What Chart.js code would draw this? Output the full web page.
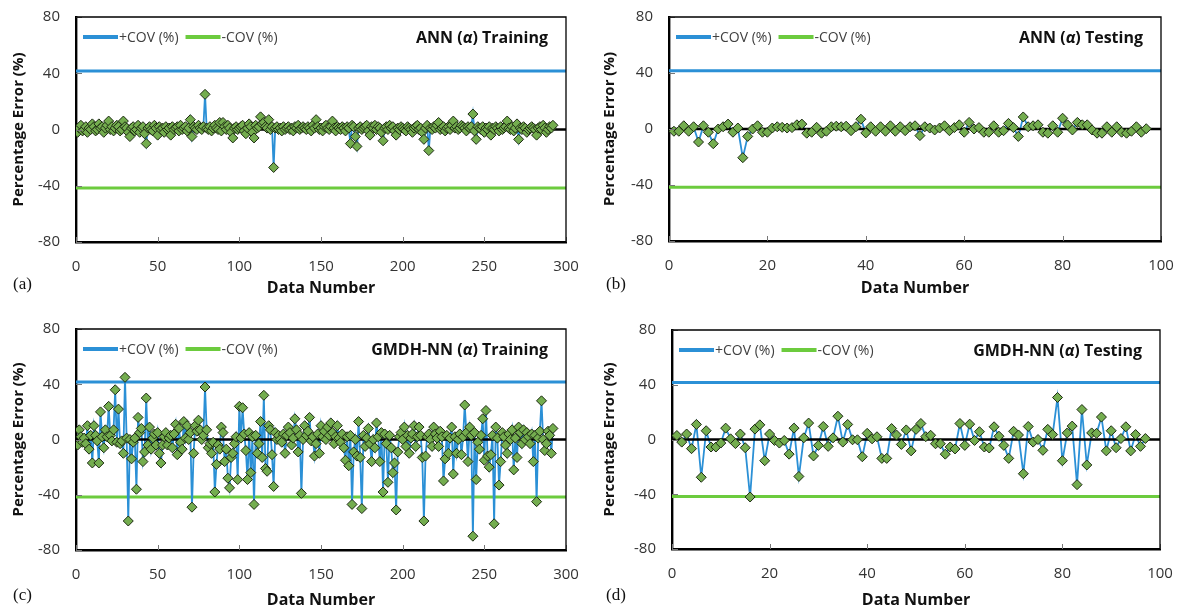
<!DOCTYPE html>
<html>
<head>
<meta charset="utf-8">
<script src="https://cdn.jsdelivr.net/npm/chart.js@4.4.1/dist/chart.umd.min.js"></script>
<style>
  body { margin: 0; background: #fff; width: 1182px; height: 613px; position: relative; overflow: hidden; }
  canvas { position: absolute; }
  .tag { position: absolute; font-family: 'Liberation Serif', serif; font-size: 17px; color: #111; }
</style>
</head>
<body>
<canvas id="chartA" width="591" height="300" style="left:0;top:0"></canvas>
<canvas id="chartB" width="591" height="300" style="left:591px;top:0"></canvas>
<canvas id="chartC" width="591" height="313" style="left:0;top:300px"></canvas>
<canvas id="chartD" width="591" height="313" style="left:591px;top:300px"></canvas>
<div class="tag" style="left:13px;top:274px">(a)</div>
<div class="tag" style="left:606px;top:274px">(b)</div>
<div class="tag" style="left:13px;top:585px">(c)</div>
<div class="tag" style="left:606px;top:585px">(d)</div>
<script>
// percentage error per data number (data number = index + 1)
const annTrain = [
  -2, 1, 3, -1, 0, 2, -2, 1, 0, 4, 2, -1, 0, 4, 1, 2, -2, 1, 3, 6,
  0, 2, -1, 1, 3, 2, -1, 0, 6, 2, 1, -2, -5, 1, 2, -1, 0, 3, -2, 1,
  2, -3, -10, 1, 2, 0, -1, 3, 1, -4, 2, 0, 1, -2, 2, 0, 1, -4, 2, 0,
  1, 2, -1, 3, 0, 1, 2, -1, 1, 7, -5, 2, 1, 0, 3, 1, 0, 2, 25, 1,
  0, 2, -1, 1, 3, 1, 0, 5, -1, 5, 2, 0, 3, 1, -2, -6, 1, 2, 0, 1,
  2, 3, -1, -3, 1, 4, 2, -2, -6, 3, 1, 2, 9, 4, 5, 2, 1, 7, 0, 2,
  -27, 1, 2, 0, 1, -1, 2, 0, 1, 2, 0, 1, -1, 2, 1, 3, 0, 1, 2, 1,
  0, 2, 1, -1, 3, 1, 7, 2, 0, 1, -1, 2, 3, 1, 0, 2, 6, 1, -1, 2,
  1, 0, 2, 1, -1, 2, 1, -10, 3, 2, -5, -12, 1, 2, 0, 1, 2, 3, -1, -4,
  2, 1, 3, 0, 2, 1, -2, -8, 1, 2, 0, 3, 1, 2, -1, -4, 1, 0, 2, 1,
  0, -1, 2, 1, 0, -2, 1, 2, 3, 0, 1, -2, -7, 1, 3, -15, 1, 0, 2, 1,
  3, 5, 0, 1, 2, -1, 1, 2, 0, 3, 6, 1, 2, 0, 1, 3, 2, 1, -1, 2,
  1, 2, 11, -1, -7, 2, 1, 0, 2, -2, 1, 0, 2, -4, 1, 0, 2, 1, -1, 2,
  0, 1, 2, 6, 1, 0, 2, -1, 1, 4, -7, 1, 0, 2, 1, -2, 0, 1, 2, 1,
  0, -4, 1, 2, 0, 3, 1, -2, 0, 2, 1, 3
];
const annTest = [
  -1.6, -1.6, 2.3, -1.6, 1.6, -9.3, 2.3, -2.3, -10.5, 0,
  1.6, 3.5, -2.3, 0.7, -20.5, -5.3, 0, 2.3, -2.3, -2.3,
  0.7, 1.6, 1.2, 0.7, 1, 3, 3.5, -3, -2.3, 1.2,
  -3, -1.6, 1.6, 2, 1.6, 2, -1.2, 1.6, 7, -2.8,
  1.6, -1.6, 1.6, -1.6, 2.3, -1.6, 1.6, -1.2, 1.6, 2.3,
  -4.7, 1.6, 0.7, -0.7, 0.7, 2.3, -1.2, 1, 3, -2.3,
  4.7, 0, 1, -2.3, -2.3, 2.3, -2.3, -1.2, 4, 1,
  -5.3, 8.6, 1.6, 2.3, 3, -2.3, -3, 2.3, -2.3, 7.7,
  3, -0.7, 4.7, 3, 3, -0.7, -3, -3, 1.6, -2.3,
  1.6, -2.3, -3, -1.6, 1.6, -2.3, 0.2
];
const gmdhTrain = [
  -4, 7, 2, -2, 1, -3, 10, -7, 3, -17, 10, 3, -1, -17, 20, 2, -6, 7, 2, 24,
  3, -1, 7, 36, -2, 22, -3, -1, -10, 45, 1, -59, 0, -14, -2, 1, -36, 16, 5, 8,
  -16, -9, 30, -4, 9, -7, 1, 4, -4, 5, -10, -17, -4, 2, 5, -4, 1, 3, -6, 4,
  11, -11, 8, -2, -7, 13, 1, 10, 0, 5, -49, -10, 10, 6, 14, 7, 0, 3, 38, 7,
  -6, -3, -10, -2, -38, -18, -4, -7, 9, 5, -16, -7, -28, -35, -13, -10, -3, 2, -29, 24,
  1, 23, 4, -8, -29, 5, -24, 2, -47, 3, -10, -3, 13, -13, 32, -21, -23, 10, 7, -11,
  -34, 5, 0, 3, 0, -2, 4, -10, 3, 9, 5, -4, 1, 15, 7, -9, 3, -39, 0, 10,
  3, 6, 16, -1, 2, -12, -3, 4, -10, 10, 2, 6, 0, 9, 3, 12, 5, -3, 2, 10,
  1, -2, 4, -6, -15, 2, -19, 3, -47, -9, 0, -12, 13, -13, -50, 3, -5, 1, 8, -3,
  -16, 0, -6, 12, 2, -16, 5, -38, 4, -3, -31, 3, -6, -24, -17, -51, -9, 2, 5, 0,
  9, -5, 3, -10, 1, 4, 10, -5, 2, 9, 3, -13, -59, -12, 2, 4, 0, -5, 9, 4,
  1, -5, 6, 2, -30, -14, 3, -10, 1, 9, -25, 2, -10, 0, 4, -11, 2, 25, 5, -16,
  9, 3, -70, 5, -29, -2, -7, 3, 15, -15, 21, -12, -20, -11, 3, -61, 9, 1, -33, -16,
  5, 2, -4, -10, 4, 0, 7, -22, 1, -13, 9, 5, -3, 7, 0, 5, 2, -3, 4, -16,
  3, -45, 1, 6, 28, 0, -8, -3, 6, 3, -10, 8
];
const gmdhTest = [
  2.9, -1.9, 4, -6.7, 11, -27.6, 6.4, -5.5, -5.5, -2.6,
  8.3, 0.5, -3, 4, -6, -42, 7.6, 10.7, -15.5, 4,
  -0.7, -2.6, -0.7, -10.7, 8.3, -27, 1.2, 12, -12, -4.3,
  9.5, -5, 1.2, 17, -1.9, 11, -0.2, -0.2, -12.6, 4.5,
  0.5, 2, -13.8, -13.8, 8, 3.3, -3.6, 7, -8.3, 7.4,
  11.7, 2.1, 3.1, -3.1, -3.1, -10.7, -5.5, -6.9, 11.7, -4.3,
  11.2, -0.7, 5.7, -5.5, -6.2, 9.3, 2.4, -4.3, -13.8, 6,
  3.3, -25, 9.5, -1.9, 0, -7.9, 7.4, 3.6, 30.7, -15.5,
  4.8, 9.8, -33, 21.9, -18.6, 4.8, 4.5, 16.4, -8.3, 6.4,
  -6, 0.7, 9.3, -8.3, 3.6, -5, 0.7
];

// coefficient of variation band (%)
const covAnnTrain = 41.6;
const covAnnTest = 41.6;
const covGmdhTrain = 41.6;
const covGmdhTest = 41.6;

// tick labels
const xTicksTrain = [0, 50, 100, 150, 200, 250, 300];
const xTicksTest = [0, 20, 40, 60, 80, 100];
const yTicks = [-80, -40, 0, 40, 80];

const BLUE = '#2b90d6';
const GREEN = '#6ccb3e';

Chart.defaults.font.family = "'Open Sans', sans-serif";
Chart.defaults.color = '#333';

// frame (top/right border), inner tick marks, in-plot legend and panel title
const framePlugin = {
    id: 'frame',
    afterDraw(chart, args, opts) {
        const { ctx, chartArea: a, scales } = chart;
        ctx.save();
        ctx.strokeStyle = '#777';
        ctx.lineWidth = 1;
        scales.x.ticks.forEach(t => {
            const px = Math.round(scales.x.getPixelForValue(t.value)) + 0.5;
            ctx.beginPath(); ctx.moveTo(px, a.bottom); ctx.lineTo(px, a.bottom - 5); ctx.stroke();
        });
        scales.y.ticks.forEach(t => {
            const py = Math.round(scales.y.getPixelForValue(t.value)) + 0.5;
            ctx.beginPath(); ctx.moveTo(a.left, py); ctx.lineTo(a.left + 6, py); ctx.stroke();
        });
        ctx.strokeStyle = '#000';
        ctx.lineWidth = 1.3;
        ctx.beginPath();
        ctx.moveTo(a.left, a.top);
        ctx.lineTo(a.right, a.top);
        ctx.lineTo(a.right, a.bottom);
        ctx.stroke();

        // legend: only the COV lines, side by side inside the plot
        ctx.font = "14px 'Open Sans', sans-serif";
        ctx.textBaseline = 'middle';
        let lx = a.left + opts.legendX;
        const ly = a.top + opts.legendY;
        chart.data.datasets.filter(d => d.label.includes('COV')).forEach(d => {
            ctx.fillStyle = d.borderColor;
            ctx.fillRect(lx, ly - 2, 35, 4);
            lx += 36;
            ctx.fillStyle = '#404040';
            ctx.fillText(d.label, lx, ly + 1);
            lx += ctx.measureText(d.label).width + 7;
        });

        // title, e.g. "ANN (α) Training" with italic alpha
        const parts = opts.title || [];
        ctx.fillStyle = '#111';
        ctx.textBaseline = 'alphabetic';
        let w = 0;
        parts.forEach(p => { ctx.font = p.font; w += ctx.measureText(p.text).width; });
        let x = a.right - opts.titleRight - w;
        const y = a.top + opts.titleTop;
        parts.forEach(p => {
            ctx.font = p.font;
            ctx.fillText(p.text, x, y);
            x += ctx.measureText(p.text).width;
        });
        ctx.restore();
    }
};

function titleParts(model, phase) {
    const bold = "bold 16px 'Open Sans', sans-serif";
    return [
        { text: model + ' (', font: bold },
        { text: 'α', font: "italic bold 16px 'Open Sans', sans-serif" },
        { text: ') ' + phase, font: bold }
    ];
}

function makeChart(id, errors, cov, xTicks, box, title) {
    const xMax = xTicks[xTicks.length - 1];
    const pts = errors.map((v, i) => ({ x: i + 1, y: v }));
    new Chart(document.getElementById(id), {
        type: 'line',
        data: {
            datasets: [
                {
                    label: '+COV (%)',
                    data: [{ x: 0, y: cov }, { x: xMax, y: cov }],
                    borderColor: BLUE, borderWidth: 3, pointRadius: 0, order: 5
                },
                {
                    label: '-COV (%)',
                    data: [{ x: 0, y: -cov }, { x: xMax, y: -cov }],
                    borderColor: GREEN, borderWidth: 3, pointRadius: 0, order: 4
                },
                {
                    label: 'error line',
                    data: pts,
                    borderColor: BLUE, borderWidth: 1.8,
                    pointRadius: 0, order: 3
                },
                {
                    label: 'zero',
                    data: [{ x: 0, y: 0 }, { x: xMax, y: 0 }],
                    borderColor: '#000', borderWidth: 2.4,
                    pointRadius: 0, order: 2
                },
                {
                    label: 'error points',
                    data: pts,
                    showLine: false,
                    pointStyle: 'rectRot',
                    pointRadius: 5,
                    pointBackgroundColor: '#74ad4f',
                    pointBorderColor: '#1c2a12',
                    pointBorderWidth: 1,
                    order: 1
                }
            ]
        },
        options: {
            responsive: false,
            animation: false,
            events: [],
            layout: { padding: { top: box.top, right: box.right, left: 0, bottom: 0 } },
            scales: {
                x: {
                    type: 'linear',
                    min: 0, max: xMax,
                    afterBuildTicks: s => { s.ticks = xTicks.map(v => ({ value: v })); },
                    afterFit: s => { s.height = box.xh; s.paddingLeft = 0; s.paddingRight = 0; },
                    grid: { display: false, drawTicks: false },
                    border: { display: true, color: '#000', width: 2.4 },
                    ticks: { padding: 16, font: { size: 15 }, color: '#333' },
                    title: {
                        display: true, text: 'Data Number',
                        font: { size: 16, weight: 'bold' }, color: '#111',
                        padding: { top: 0, bottom: box.tb }
                    }
                },
                y: {
                    min: -80, max: 80,
                    afterBuildTicks: s => { s.ticks = yTicks.map(v => ({ value: v })); },
                    afterFit: s => { s.width = box.yw; s.paddingTop = 0; s.paddingBottom = 0; },
                    grid: { display: false, drawTicks: false },
                    border: { display: true, color: '#000', width: 2.4 },
                    ticks: { padding: 16, font: { size: 15 }, color: '#333' },
                    title: {
                        display: true, text: 'Percentage Error (%)',
                        font: { size: 15, weight: 'bold' }, color: '#111',
                        padding: { top: box.yt, bottom: 0 }
                    }
                }
            },
            plugins: {
                legend: { display: false },
                tooltip: { enabled: false },
                frame: { title: title, titleRight: 18, titleTop: 26, legendX: 7, legendY: 20 }
            }
        },
        plugins: [framePlugin]
    });
}

makeChart('chartA', annTrain, covAnnTrain, xTicksTrain,
    { top: 17, right: 25, xh: 58, yw: 76, tb: 2, yt: 10 }, titleParts('ANN', 'Training'));
makeChart('chartB', annTest, covAnnTest, xTicksTest,
    { top: 17, right: 21, xh: 59, yw: 78, tb: 2, yt: 10 }, titleParts('ANN', 'Testing'));
makeChart('chartC', gmdhTrain, covGmdhTrain, xTicksTrain,
    { top: 29, right: 25, xh: 63, yw: 76, tb: 3, yt: 10 }, titleParts('GMDH-NN', 'Training'));
makeChart('chartD', gmdhTest, covGmdhTest, xTicksTest,
    { top: 30, right: 22, xh: 64, yw: 81, tb: 3, yt: 10 }, titleParts('GMDH-NN', 'Testing'));
</script>
</body>
</html>
